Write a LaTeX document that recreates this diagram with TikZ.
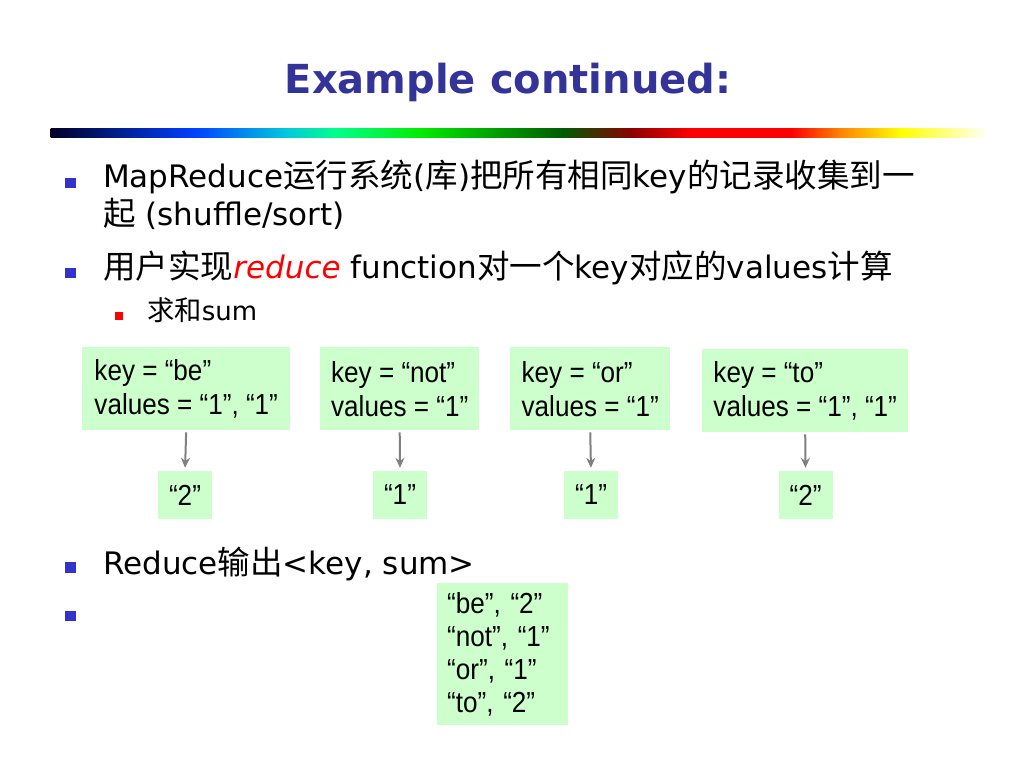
\documentclass[tikz,border=0pt]{standalone}
\usepackage{fontspec}
\setmainfont{DejaVu Sans}
\newfontfamily\cjk{Noto Sans CJK SC}[Scale=1.05]
\newfontfamily\boxfont{Liberation Sans}[FakeStretch=0.9]
\usetikzlibrary{arrows.meta}

\definecolor{titleblue}{RGB}{51,51,153}
\definecolor{bulletblue}{RGB}{51,51,204}
\definecolor{boxgreen}{RGB}{204,255,204}
\definecolor{arrowgray}{RGB}{128,128,128}
% rainbow bar
\definecolor{bar0}{RGB}{0,0,40}
\definecolor{bar1}{RGB}{0,64,255}
\definecolor{bar2}{RGB}{0,200,220}
\definecolor{bar3}{RGB}{0,255,140}
\definecolor{bar4}{RGB}{0,235,0}
\definecolor{bar5}{RGB}{0,90,0}
\definecolor{bar6}{RGB}{140,0,0}
\definecolor{bar7}{RGB}{255,0,0}
\definecolor{bar8}{RGB}{255,130,0}
\definecolor{bar9}{RGB}{255,255,0}

\tikzset{
    bodytext/.style={anchor=base west, inner sep=0pt,
        font=\fontsize{31}{38}\selectfont},
    bullet/.style={fill=bulletblue, minimum size=10.5pt, inner sep=0pt},
    kvbox/.style={fill=boxgreen, align=left, anchor=north west,
        inner sep=0pt, minimum height=83pt,
        font=\boxfont\fontsize{29}{34}\selectfont},
    outbox/.style={fill=boxgreen, minimum width=54pt, minimum height=48pt,
        inner sep=0pt, font=\boxfont\fontsize{29}{34}\selectfont},
    flowarrow/.style={draw=arrowgray, line width=2pt,
        -{Stealth[length=10pt,width=9pt]}, shorten <=2pt, shorten >=3pt}
}

\begin{document}
\begin{tikzpicture}[x=1pt,y=-1pt]

\useasboundingbox (0,0) rectangle (1024,768);

% Title
\node[anchor=base, inner sep=0pt, text=titleblue,
    font=\fontsize{40}{48}\selectfont\bfseries] (title) at (508,93) {Example continued:};

% Rainbow bar
\foreach \xa/\xb/\ca/\cb in {51/194/bar0/bar1, 194/286/bar1/bar2, 286/335/bar2/bar3,
    335/421/bar3/bar4, 421/563/bar4/bar5, 563/631/bar5/bar6, 631/692/bar6/bar7,
    692/791/bar7/bar7, 791/840/bar7/bar8, 840/901/bar8/bar9, 901/988/bar9/white}
    \shade[left color=\ca, right color=\cb] (\xa-0.3,128) rectangle (\xb+0.3,137);

% Bullets
\node[bullet] (b1) at (70.5,183) {};
\node[bullet] (b2) at (70.5,273) {};
\node[fill=red, minimum size=8pt, inner sep=0pt] (b2a) at (119,315.5) {};
\node[bullet] (b3) at (70.5,567.5) {};
\node[bullet] (b4) at (70.5,616) {};

\node[bodytext] (t1) at (103,187)
    {MapReduce{\cjk 运行系统}({\cjk 库}){\cjk 把所有相同}key{\cjk 的记录收集到一}};
\node[bodytext] (t1b) at (103,225) {{\cjk 起} (shuffle/sort)};
\node[bodytext] (t2) at (103,278)
    {{\cjk 用户实现}\textcolor{red}{\itshape reduce} function{\cjk 对一个}key{\cjk 对应的}values{\cjk 计算}};
\node[bodytext, font=\fontsize{26}{32}\selectfont] (t2a) at (147,320) {{\cjk 求和}sum};
\node[bodytext] (t3) at (103,574) {Reduce{\cjk 输出}<key, sum>};

% Key / values boxes
\node[kvbox, minimum width=208pt] (kv1) at (82,347) {key = “be”\\values = “1”, “1”};
\node[kvbox, minimum width=159pt] (kv2) at (320,347) {key = “not”\\values = “1”};
\node[kvbox, minimum width=160pt] (kv3) at (510,347) {key = “or”\\values = “1”};
\node[kvbox, minimum width=206pt] (kv4) at (702,349) {key = “to”\\values = “1”, “1”};

% Sums
\node[outbox] (out1) at (185,495) {“2”};
\node[outbox] (out2) at (400,495) {“1”};
\node[outbox] (out3) at (591,495) {“1”};
\node[outbox] (out4) at (805.5,495) {“2”};

\foreach \i in {1,...,4}
    \draw[flowarrow] (kv\i.south) -- (out\i.north);

% Output
\node[kvbox, inner xsep=10pt, text width=111pt, minimum height=142pt,
    font=\boxfont\fontsize{29}{33}\selectfont] (result) at (437,583)
    {“be”, “2”\\“not”, “1”\\“or”, “1”\\“to”, “2”};

\end{tikzpicture}
\end{document}
